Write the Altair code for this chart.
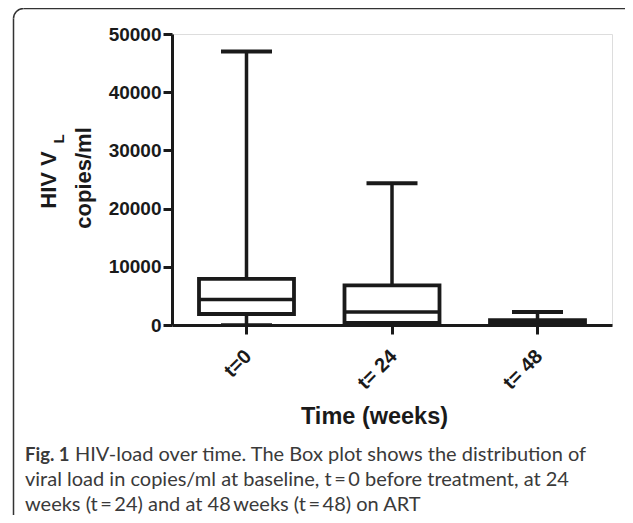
import altair as alt
import pandas as pd

# ---- data ----
categories = ["t=0", "t= 24", "t= 48"]
mins = [150, 40, 50]
q1s = [1890, 340, 230]
medians = [4400, 2230, 400]
q3s = [7940, 6800, 850]
maxs = [47000, 24340, 2230]
y_ticks = [0, 10000, 20000, 30000, 40000, 50000]

caption_bold = "Fig. 1"
caption_lines = [
    "HIV-load over time. The Box plot shows the distribution of",
    "viral load in copies/ml at baseline, t\u2009=\u20090 before treatment, at 24",
    "weeks (t\u2009=\u200924) and at 48\u2009weeks (t\u2009=\u200948) on ART",
]

W, H = 440, 291
INK = "#1a1a1a"
FONT = "Liberation Sans"
FRAME = "#333333"

df = pd.DataFrame({
    "time": categories, "min": mins, "q1": q1s,
    "median": medians, "q3": q3s, "max": maxs,
})

xenc = alt.X(
    "time:N", sort=categories,
    scale=alt.Scale(paddingInner=0.3, paddingOuter=0.162),
    axis=alt.Axis(
        title="Time (weeks)", titleFont=FONT, titleFontSize=23.5, titleFontWeight="bold",
        titleColor=INK, titleX=202, titleY=98, titleAnchor="start", titleAlign="center",
        titleBaseline="alphabetic",
        labelAngle=-45, labelAlign="right", labelBaseline="middle", labelPadding=19,
        labelOffset=2,
        labelFont=FONT, labelFontSize=20, labelFontWeight="bold", labelColor=INK,
        domainColor=INK, domainWidth=3, tickColor=INK, tickWidth=3, tickSize=9,
        grid=False,
    ),
)
yscale = alt.Scale(domain=[0, 50000], nice=False)
yaxis = alt.Axis(
    title="", values=y_ticks, format="d",
    labelFont=FONT, labelFontSize=19, labelFontWeight="bold", labelColor=INK,
    labelPadding=2,
    domainColor=INK, domainWidth=3, tickColor=INK, tickWidth=3, tickSize=9,
    grid=False,
)

base = alt.Chart(df).encode(x=xenc)

whisker = base.mark_rule(color=INK, strokeWidth=3.5).encode(
    y=alt.Y("min:Q", scale=yscale, axis=yaxis), y2="max:Q")
box = base.mark_bar(fill="white", stroke=INK, strokeWidth=3.8, size=95).encode(
    y=alt.Y("q1:Q", scale=yscale), y2="q3:Q")
med = base.mark_tick(color=INK, opacity=1, thickness=3.5, size=96).encode(
    y=alt.Y("median:Q", scale=yscale))
cap_hi = base.mark_tick(color=INK, opacity=1, thickness=4, size=51).encode(
    y=alt.Y("max:Q", scale=yscale))
cap_lo = base.mark_tick(color=INK, opacity=1, thickness=2, size=51).encode(
    y=alt.Y("min:Q", scale=yscale))

# y-axis title drawn as text so the subscript L can be shown
ytitle_a = alt.Chart(pd.DataFrame({"t": ["HIV V"]})).mark_text(
    angle=270, font=FONT, fontSize=22, fontWeight="bold", color=INK,
    align="center", baseline="middle",
).encode(text="t:N", x=alt.value(-123), y=alt.value(146))
ytitle_sub = alt.Chart(pd.DataFrame({"t": ["L"]})).mark_text(
    angle=270, font=FONT, fontSize=15, fontWeight="bold", color=INK,
    align="center", baseline="middle",
).encode(text="t:N", x=alt.value(-113), y=alt.value(105))
ytitle_b = alt.Chart(pd.DataFrame({"t": ["copies/ml"]})).mark_text(
    angle=270, font=FONT, fontSize=22, fontWeight="bold", color=INK,
    align="center", baseline="middle",
).encode(text="t:N", x=alt.value(-88), y=alt.value(144))

# caption
CAP_FONT = "Lato"
CAP_COLOR = "#3a3a3a"
CAP_SIZE = 20
cap_fig = alt.Chart(pd.DataFrame({"t": [caption_bold]})).mark_text(
    font=CAP_FONT, fontSize=18.5, fontWeight="bold", color=CAP_COLOR,
    align="left", baseline="alphabetic",
).encode(text="t:N", x=alt.value(-147), y=alt.value(427))
cap_l1 = alt.Chart(pd.DataFrame({"t": [caption_lines[0]]})).mark_text(
    font=CAP_FONT, fontSize=CAP_SIZE, color=CAP_COLOR, align="left", baseline="alphabetic",
).encode(text="t:N", x=alt.value(-97), y=alt.value(427))
cap_l2 = alt.Chart(pd.DataFrame({"t": [caption_lines[1]]})).mark_text(
    font=CAP_FONT, fontSize=CAP_SIZE, color=CAP_COLOR, align="left", baseline="alphabetic",
).encode(text="t:N", x=alt.value(-147), y=alt.value(452))
cap_l3 = alt.Chart(pd.DataFrame({"t": [caption_lines[2]]})).mark_text(
    font=CAP_FONT, fontSize=CAP_SIZE, color=CAP_COLOR, align="left", baseline="alphabetic",
).encode(text="t:N", x=alt.value(-147), y=alt.value(477))

# frame: top edge, left edge and rounded top-left corner (rest lies outside)
one = pd.DataFrame({"f": [1]})
frame_top = alt.Chart(one).mark_rule(color=FRAME, strokeWidth=1.5).encode(
    x=alt.value(-148.5), x2=alt.value(460), y=alt.value(-25.5))
frame_left = alt.Chart(one).mark_rule(color=FRAME, strokeWidth=1.5).encode(
    x=alt.value(-158.5), y=alt.value(-15.5), y2=alt.value(490))
frame_corner = alt.Chart(one).mark_arc(color=FRAME).encode(
    x=alt.value(-148.5), y=alt.value(-15.5),
    theta=alt.value(4.7124), theta2=alt.value(6.2832),
    radius=alt.value(10.75), radius2=alt.value(9.25))

chart = alt.layer(
    frame_top, frame_left, frame_corner,
    whisker, box, med, cap_hi, cap_lo,
    ytitle_a, ytitle_sub, ytitle_b,
    cap_fig, cap_l1, cap_l2, cap_l3,
).properties(
    width=W, height=H,
    autosize=alt.AutoSizeParams(type="none"),
    padding={"left": 164, "top": 26, "right": 13, "bottom": 190},
).configure_view(strokeWidth=0).configure(background="white")

chart.save("out.html", embed_options={"renderer": "svg", "actions": False})
